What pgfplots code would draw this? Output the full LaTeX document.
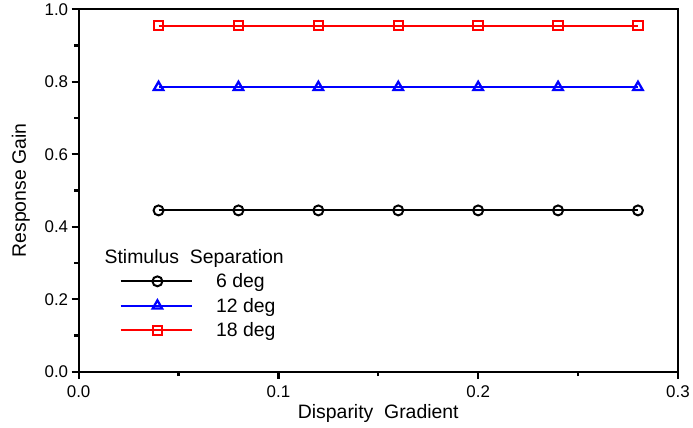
\documentclass[border=0pt]{standalone}
\usepackage{pgfplots}
\pgfplotsset{compat=1.18}
\usepackage{fontspec}
\setmainfont{Liberation Sans}
\begin{document}
\begin{tikzpicture}
\begin{axis}[
  scale only axis, width=602pt, height=364pt,
  xmin=0, xmax=0.3, ymin=0, ymax=1.0,
  axis line style={line width=2.2pt},
  xtick={0,0.1,0.2,0.3}, ytick={0,0.2,...,1.0},
  minor xtick={0.05,0.15,0.25}, minor ytick={0.1,0.3,0.5,0.7,0.9},
  tick align=outside, xtick pos=bottom, ytick pos=left,
  major tick length=7pt, minor tick length=4.5pt,
  tick style={line width=2.2pt, black},
  /pgf/number format/assume math mode=true,
  /pgf/number format/.cd, fixed, fixed zerofill, precision=1, /pgfplots/.cd,
  tick label style={font=\fontsize{17}{19}\selectfont},
  xticklabel style={yshift=-4pt},
  label style={font=\fontsize{19.5}{21}\selectfont},
  xlabel={Disparity\ \ Gradient}, ylabel={Response Gain},
  xlabel style={yshift=1pt},
  ylabel style={yshift=8pt},
  legend style={at={(axis cs:0.0189,0.35)}, anchor=north west, draw=none, fill=none,
    font=\fontsize{19.5}{21}\selectfont, row sep=5pt, column sep=21pt},
  legend cell align=left,
  legend image code/.code={\draw[mark repeat=2,mark phase=2] plot coordinates {(0pt,0pt) (37pt,0pt) (72pt,0pt)};},
]
\addlegendimage{empty legend}
\addlegendentry{\hspace*{-112pt}Stimulus\ \ Separation}
\addplot[black, line width=2pt, mark=o, mark size=5pt, mark options={line width=2pt, fill=white}]
  coordinates {(0.04,0.445)(0.08,0.445)(0.12,0.445)(0.16,0.445)(0.20,0.445)(0.24,0.445)(0.28,0.445)};
\addlegendentry{6 deg}
\addplot[blue, line width=2pt, mark=triangle, mark size=5.5pt, mark options={line width=2.3pt, fill=white}]
  coordinates {(0.04,0.785)(0.08,0.785)(0.12,0.785)(0.16,0.785)(0.20,0.785)(0.24,0.785)(0.28,0.785)};
\addlegendentry{12 deg}
\addplot[red, line width=2pt, mark=square, mark size=4.7pt, mark options={line width=2pt, fill=white}]
  coordinates {(0.04,0.955)(0.08,0.955)(0.12,0.955)(0.16,0.955)(0.20,0.955)(0.24,0.955)(0.28,0.955)};
\addlegendentry{18 deg}
\end{axis}
\path (current axis.south west) ++(-79pt,-56pt) rectangle ++(693pt,428pt);
\end{tikzpicture}
\end{document}
